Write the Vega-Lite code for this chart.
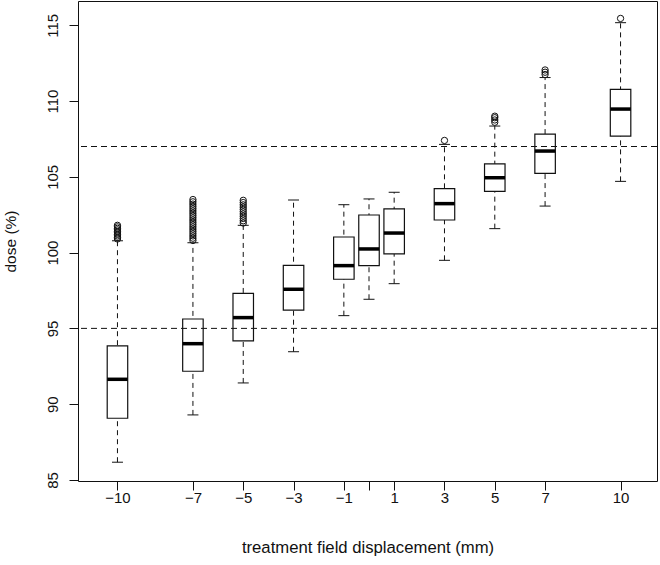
{
  "$schema": "https://vega.github.io/schema/vega-lite/v6.json",
  "autosize": "none",
  "width": 579,
  "height": 480,
  "padding": {"left": 78, "top": 1, "right": 3, "bottom": 84},
  "background": "white",
  "config": {
    "view": {"stroke": "#111", "strokeWidth": 1},
    "font": "Liberation Sans",
    "axis": {"grid": false, "domain": false, "tickColor": "#111", "labelColor": "#111", "titleColor": "#111", "labelFont": "Liberation Sans", "titleFont": "Liberation Sans", "labelFontSize": 15, "titleFontSize": 15, "titleFontWeight": "normal", "tickSize": 9}
  },
  "datasets": {
    "boxes": [
      {"disp": -10, "lower": 86.17, "q1": 89.07, "median": 91.64, "q3": 93.84, "upper": 100.78},
      {"disp": -7, "lower": 89.29, "q1": 92.17, "median": 93.99, "q3": 95.62, "upper": 100.65},
      {"disp": -5, "lower": 91.40, "q1": 94.17, "median": 95.71, "q3": 97.31, "upper": 101.8},
      {"disp": -3, "lower": 93.46, "q1": 96.21, "median": 97.58, "q3": 99.16, "upper": 103.47},
      {"disp": -1, "lower": 95.84, "q1": 98.24, "median": 99.14, "q3": 101.03, "upper": 103.16},
      {"disp": 0, "lower": 96.92, "q1": 99.14, "median": 100.24, "q3": 102.48, "upper": 103.54},
      {"disp": 1, "lower": 97.95, "q1": 99.91, "median": 101.29, "q3": 102.88, "upper": 103.98},
      {"disp": 3, "lower": 99.49, "q1": 102.15, "median": 103.23, "q3": 104.22, "upper": 107.14},
      {"disp": 5, "lower": 101.58, "q1": 104.04, "median": 104.94, "q3": 105.86, "upper": 108.35},
      {"disp": 7, "lower": 103.07, "q1": 105.23, "median": 106.70, "q3": 107.82, "upper": 111.55},
      {"disp": 10, "lower": 104.70, "q1": 107.69, "median": 109.47, "q3": 110.77, "upper": 115.17}
    ],
    "outliers": [
      {"disp": -10, "dose": 100.9}, {"disp": -10, "dose": 101.0}, {"disp": -10, "dose": 101.1}, {"disp": -10, "dose": 101.2}, {"disp": -10, "dose": 101.3}, {"disp": -10, "dose": 101.4}, {"disp": -10, "dose": 101.5}, {"disp": -10, "dose": 101.6}, {"disp": -10, "dose": 101.7}, {"disp": -10, "dose": 101.8},
      {"disp": -7, "dose": 100.8}, {"disp": -7, "dose": 100.95}, {"disp": -7, "dose": 101.1}, {"disp": -7, "dose": 101.25}, {"disp": -7, "dose": 101.4}, {"disp": -7, "dose": 101.55}, {"disp": -7, "dose": 101.7}, {"disp": -7, "dose": 101.85}, {"disp": -7, "dose": 102.0}, {"disp": -7, "dose": 102.15}, {"disp": -7, "dose": 102.3}, {"disp": -7, "dose": 102.45}, {"disp": -7, "dose": 102.6}, {"disp": -7, "dose": 102.75}, {"disp": -7, "dose": 102.9}, {"disp": -7, "dose": 103.05}, {"disp": -7, "dose": 103.2}, {"disp": -7, "dose": 103.35}, {"disp": -7, "dose": 103.5},
      {"disp": -5, "dose": 101.95}, {"disp": -5, "dose": 102.1}, {"disp": -5, "dose": 102.25}, {"disp": -5, "dose": 102.4}, {"disp": -5, "dose": 102.55}, {"disp": -5, "dose": 102.7}, {"disp": -5, "dose": 102.85}, {"disp": -5, "dose": 103.0}, {"disp": -5, "dose": 103.15}, {"disp": -5, "dose": 103.3}, {"disp": -5, "dose": 103.45},
      {"disp": 3, "dose": 107.4},
      {"disp": 5, "dose": 108.6}, {"disp": 5, "dose": 108.75}, {"disp": 5, "dose": 108.9}, {"disp": 5, "dose": 109.0},
      {"disp": 7, "dose": 111.75}, {"disp": 7, "dose": 111.9}, {"disp": 7, "dose": 112.05},
      {"disp": 10, "dose": 115.45}
    ],
    "refs": [{"level": 95}, {"level": 107}]
  },
  "layer": [
    {
      "data": {"name": "boxes"},
      "mark": {"type": "rule", "color": "#111", "strokeWidth": 1, "strokeDash": [5, 4]},
      "encoding": {
        "x": {"field": "disp", "type": "quantitative", "scale": {"domain": [-11.37, 11.25], "nice": false, "zero": false},
          "axis": {"values": [-10, -7, -5, -3, -1, 0, 1, 3, 5, 7, 10], "labelExpr": "datum.value == 0 ? '' : (datum.value < 0 ? '\u2212' + abs(datum.value) : '' + datum.value)", "labelBaseline": "alphabetic", "labelPadding": 12, "labelFlush": false, "labelOverlap": false, "title": "treatment field displacement (mm)", "titleFontSize": 16.7, "titleBaseline": "alphabetic", "titleY": 71, "titleX": 289.5, "titleAlign": "center"}},
        "y": {"field": "lower", "type": "quantitative", "scale": {"domain": [84.93, 116.6], "nice": false, "zero": false},
          "axis": {"values": [85, 90, 95, 100, 105, 110, 115], "labelAngle": -90, "labelAlign": "center", "labelBaseline": "alphabetic", "labelPadding": 12, "title": "dose (%)", "titleFontSize": 15.5, "titleAngle": -90, "titleBaseline": "alphabetic", "titleAlign": "center", "titleX": -63, "titleY": 240}},
        "y2": {"field": "upper"}
      }
    },
    {
      "data": {"name": "boxes"},
      "mark": {"type": "tick", "orient": "horizontal", "color": "#111", "opacity": 1, "thickness": 1, "size": 11},
      "encoding": {
        "x": {"field": "disp", "type": "quantitative"},
        "y": {"field": "lower", "type": "quantitative"}
      }
    },
    {
      "data": {"name": "boxes"},
      "mark": {"type": "tick", "orient": "horizontal", "color": "#111", "opacity": 1, "thickness": 1, "size": 11},
      "encoding": {
        "x": {"field": "disp", "type": "quantitative"},
        "y": {"field": "upper", "type": "quantitative"}
      }
    },
    {
      "data": {"name": "boxes"},
      "mark": {"type": "bar", "orient": "vertical", "fill": "white", "stroke": "#111", "strokeWidth": 1.2, "size": 20.5},
      "encoding": {
        "x": {"field": "disp", "type": "quantitative"},
        "y": {"field": "q1", "type": "quantitative"},
        "y2": {"field": "q3"}
      }
    },
    {
      "data": {"name": "boxes"},
      "mark": {"type": "tick", "orient": "horizontal", "color": "#000", "opacity": 1, "thickness": 3.5, "size": 20.5},
      "encoding": {
        "x": {"field": "disp", "type": "quantitative"},
        "y": {"field": "median", "type": "quantitative"}
      }
    },
    {
      "data": {"name": "outliers"},
      "mark": {"type": "point", "shape": "circle", "filled": false, "stroke": "#111", "opacity": 1, "strokeWidth": 1, "size": 40},
      "encoding": {
        "x": {"field": "disp", "type": "quantitative"},
        "y": {"field": "dose", "type": "quantitative"}
      }
    },
    {
      "data": {"name": "refs"},
      "mark": {"type": "rule", "color": "#111", "strokeWidth": 1, "strokeDash": [6, 4]},
      "encoding": {
        "y": {"field": "level", "type": "quantitative"}
      }
    }
  ]
}
